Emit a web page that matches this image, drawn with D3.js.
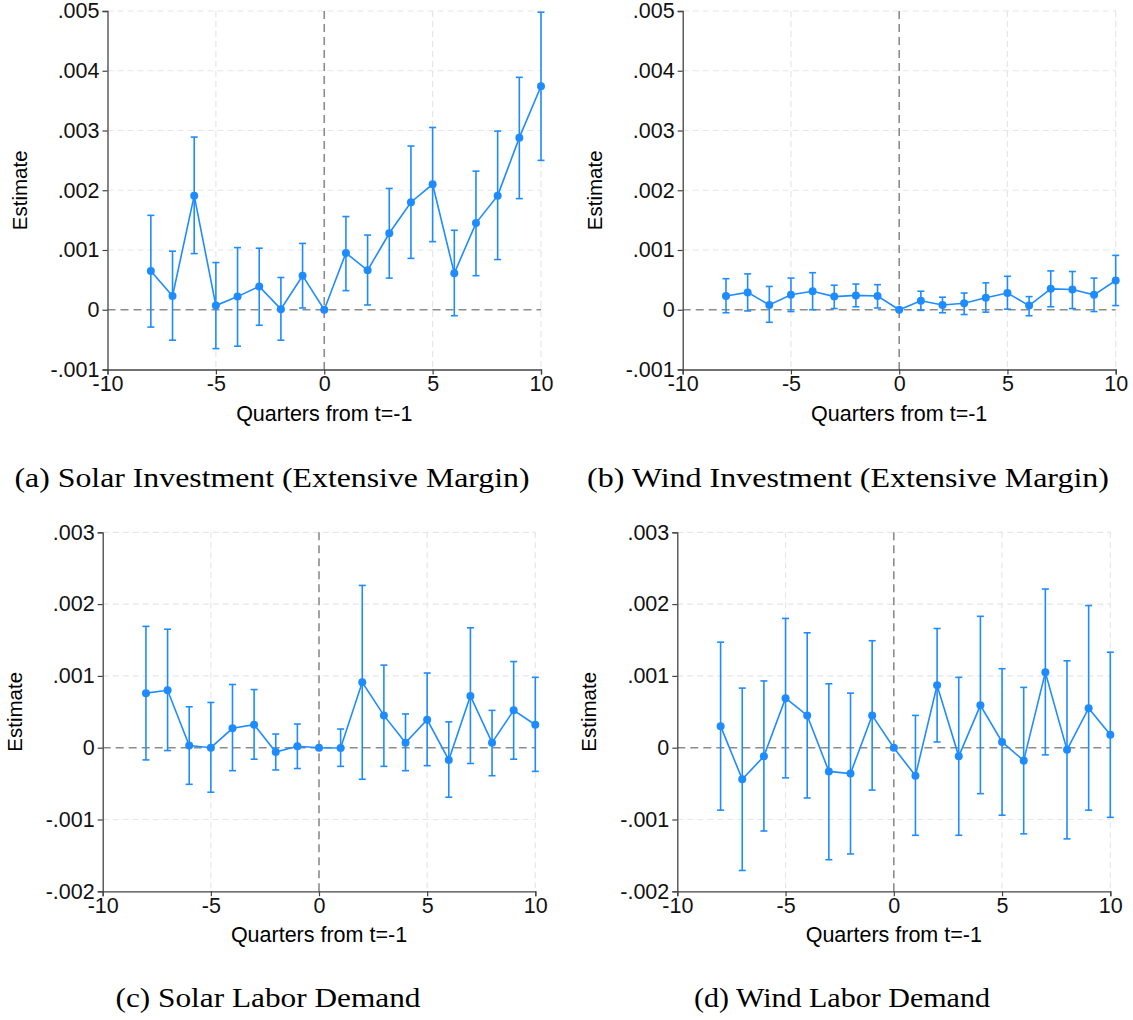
<!DOCTYPE html>
<html>
<head>
<meta charset="utf-8">
<script src="https://cdn.jsdelivr.net/npm/d3@7"></script>
<style>
  body { margin: 0; background: #fff; }
  svg text { font-family: "Liberation Sans", Arial, sans-serif; }
</style>
</head>
<body>
<div id="fig"></div>
<script>
// event-study estimates, quarters -8..10 (t=-1 normalised to zero)
var quarters = [-8, -7, -6, -5, -4, -3, -2, -1, 0, 1, 2, 3, 4, 5, 6, 7, 8, 9, 10];

// (a) solar investment
var solarInvEst = [.00065, .00023, .00191, .00007, .00022, .00039, .00001, .00057, 0, .00095, .00066, .00128, .0018, .0021, .00061, .00145, .00191, .00288, .00374];
var solarInvHi = [.00158, .00098, .00289, .00079, .00104, .00103, .00054, .00111, 0, .00156, .00125, .00203, .00274, .00305, .00133, .00232, .00299, .00389, .00498];
var solarInvLo = [-.00029, -.00051, .00094, -.00065, -.00061, -.00026, -.00051, .00003, 0, .00032, .00008, .00053, .00086, .00114, -.0001, .00057, .00084, .00186, .0025];

// (b) wind investment
var windInvEst = [.00023, .00029, .00008, .00025, .00031, .00022, .00024, .00023, 0, .00015, .00008, .00011, .0002, .00028, .00007, .00035, .00034, .00025, .00049];
var windInvHi = [.00052, .0006, .00039, .00053, .00062, .00041, .00043, .00042, 0, .00031, .00021, .00028, .00045, .00056, .00022, .00065, .00064, .00053, .00091];
var windInvLo = [-.00005, -.00002, -.00021, -.00003, 0, .00002, .00005, .00003, 0, -.00001, -.00005, -.00008, -.00004, .00001, -.0001, .00005, .00002, -.00003, .00007];

// (c) solar labor demand
var solarLabEst = [.00076, .0008, .00003, 0, .00027, .00032, -.00006, .00002, 0, -.000005, .00091, .00045, .00007, .00039, -.00017, .00072, .00007, .00052, .00032];
var solarLabHi = [.00169, .00165, .00057, .00063, .00088, .00081, .00019, .00033, 0, .00026, .00226, .00115, .00047, .00104, .00036, .00167, .00052, .0012, .00098];
var solarLabLo = [-.00017, -.00004, -.00051, -.00062, -.00032, -.00016, -.00031, -.00029, 0, -.00026, -.00044, -.00026, -.00032, -.00025, -.00069, -.00022, -.00039, -.00016, -.00033];

// (d) wind labor demand
var windLabEst = [.0003, -.00044, -.00012, .00069, .00045, -.00033, -.00036, .00045, 0, -.00039, .00087, -.00012, .00059, .00008, -.00018, .00105, -.00003, .00055, .00018];
var windLabHi = [.00147, .00083, .00093, .0018, .0016, .00089, .00076, .00149, 0, .00045, .00166, .00098, .00183, .0011, .00084, .00221, .00121, .00198, .00133];
var windLabLo = [-.00087, -.00171, -.00116, -.00042, -.0007, -.00156, -.00148, -.00059, 0, -.00122, .00008, -.00122, -.00064, -.00094, -.0012, -.0001, -.00127, -.00087, -.00097];

var xTicks = [-10, -5, 0, 5, 10];
var yTicksTop = [-.001, 0, .001, .002, .003, .004, .005];
var yTicksBottom = [-.002, -.001, 0, .001, .002, .003];

var captions = ["(a) Solar Investment (Extensive Margin)", "(b) Wind Investment (Extensive Margin)",
                "(c) Solar Labor Demand", "(d) Wind Labor Demand"];

var width = 1133, height = 1020;
var blue = "#1e8cff";

var svg = d3.select("#fig").append("svg")
    .attr("width", width)
    .attr("height", height);

// Stata style labels: .001, -.001 (plain hyphen)
function fmt(v) {
    if (v === 0) return "0";
    var s = d3.format(".3f")(Math.abs(v)).replace("0.", ".");
    return (v < 0 ? "-" : "") + s;
}

function drawPanel(p) {
    var x = d3.scaleLinear().domain([-10, 10]).range([p.left, p.right]);
    var y = d3.scaleLinear().domain(d3.extent(p.yTicks)).range([p.bottom, p.top]);
    var g = svg.append("g");

    // grid
    g.selectAll(".hgrid")
        .data(p.yTicks.filter(function (d) { return d !== 0 && d !== p.yTicks[0]; }))
        .enter().append("line")
        .attr("x1", p.left).attr("x2", p.right)
        .attr("y1", function (d) { return y(d); })
        .attr("y2", function (d) { return y(d); })
        .attr("stroke", "#e6e6e6").attr("stroke-width", 1.2)
        .attr("stroke-dasharray", "6,4");
    g.selectAll(".vgrid")
        .data([-5, 5, 10])
        .enter().append("line")
        .attr("y1", p.top).attr("y2", p.bottom)
        .attr("x1", function (d) { return x(d); })
        .attr("x2", function (d) { return x(d); })
        .attr("stroke", "#e6e6e6").attr("stroke-width", 1.2)
        .attr("stroke-dasharray", "6,4");

    // reference lines at 0
    g.append("line")
        .attr("x1", p.left).attr("x2", p.right)
        .attr("y1", y(0)).attr("y2", y(0))
        .attr("stroke", "#8c8c8c").attr("stroke-width", 1.6)
        .attr("stroke-dasharray", "8,5");
    g.append("line")
        .attr("x1", x(0)).attr("x2", x(0))
        .attr("y1", p.top).attr("y2", p.bottom)
        .attr("stroke", "#8c8c8c").attr("stroke-width", 1.6)
        .attr("stroke-dasharray", "8,5");

    // axes
    var yAxis = d3.axisLeft(y).tickValues(p.yTicks).tickFormat(fmt).tickSize(5).tickPadding(3);
    var xAxis = d3.axisBottom(x).tickValues(xTicks).tickFormat(function (d) { return String(d); })
        .tickSize(5).tickPadding(1);

    var ya = g.append("g").attr("transform", "translate(" + p.left + ",0)").call(yAxis);
    var xa = g.append("g").attr("transform", "translate(0," + p.bottom + ")").call(xAxis);
    [ya, xa].forEach(function (a) {
        a.select(".domain").attr("stroke", "#444").attr("stroke-width", 1.3);
        a.selectAll(".tick line").attr("stroke", "#444").attr("stroke-width", 1.2);
        a.selectAll("text").attr("fill", "#111").style("font-size", "21.5px")
            .style("font-family", "'Liberation Sans', Arial, sans-serif");
    });

    // axis titles
    g.append("text")
        .attr("transform", "translate(" + (p.left - 81) + "," + ((p.top + p.bottom) / 2) + ") rotate(-90)")
        .attr("text-anchor", "middle")
        .style("font-size", "20.5px")
        .text("Estimate");
    g.append("text")
        .attr("x", (p.left + p.right) / 2)
        .attr("y", p.bottom + 51)
        .attr("text-anchor", "middle")
        .style("font-size", "21.5px")
        .text("Quarters from t=-1");

    // error bars
    var bars = g.selectAll(".ci").data(quarters).enter().append("g");
    bars.append("line")
        .attr("x1", function (d) { return x(d); })
        .attr("x2", function (d) { return x(d); })
        .attr("y1", function (d, i) { return y(p.lo[i]); })
        .attr("y2", function (d, i) { return y(p.hi[i]); })
        .attr("stroke", blue).attr("stroke-width", 1.6);
    ["lo", "hi"].forEach(function (k) {
        bars.append("line")
            .attr("x1", function (d) { return x(d) - 3.5; })
            .attr("x2", function (d) { return x(d) + 3.5; })
            .attr("y1", function (d, i) { return y(p[k][i]); })
            .attr("y2", function (d, i) { return y(p[k][i]); })
            .attr("stroke", blue).attr("stroke-width", 1.6);
    });

    // connecting line and points
    var line = d3.line()
        .x(function (d) { return x(d); })
        .y(function (d, i) { return y(p.est[i]); });
    g.append("path")
        .datum(quarters)
        .attr("d", line)
        .attr("fill", "none")
        .attr("stroke", blue).attr("stroke-width", 1.6);
    g.selectAll(".pt").data(quarters).enter().append("circle")
        .attr("cx", function (d) { return x(d); })
        .attr("cy", function (d, i) { return y(p.est[i]); })
        .attr("r", 4)
        .attr("fill", blue);

    // caption (serif, roughly Computer Modern width)
    g.append("text")
        .attr("x", p.capX)
        .attr("y", p.capY)
        .attr("text-anchor", "middle")
        .attr("textLength", p.capW)
        .attr("lengthAdjust", "spacingAndGlyphs")
        .style("font-size", "28px")
        .style("font-family", "'Liberation Serif', 'DejaVu Serif', serif")
        .text(p.caption);
}

var panels = [
    {left: 107.5, right: 541, top: 11, bottom: 369.5, yTicks: yTicksTop,
     est: solarInvEst, lo: solarInvLo, hi: solarInvHi, caption: captions[0], capX: 272, capY: 487, capW: 515},
    {left: 682.7, right: 1115.7, top: 11, bottom: 369.5, yTicks: yTicksTop,
     est: windInvEst, lo: windInvLo, hi: windInvHi, caption: captions[1], capX: 848, capY: 487, capW: 522},
    {left: 102.7, right: 535.3, top: 532.3, bottom: 891.3, yTicks: yTicksBottom,
     est: solarLabEst, lo: solarLabLo, hi: solarLabHi, caption: captions[2], capX: 268, capY: 1007, capW: 305},
    {left: 677.3, right: 1110.3, top: 532.3, bottom: 891.3, yTicks: yTicksBottom,
     est: windLabEst, lo: windLabLo, hi: windLabHi, caption: captions[3], capX: 842, capY: 1007, capW: 296}
];

panels.forEach(drawPanel);
</script>
</body>
</html>
